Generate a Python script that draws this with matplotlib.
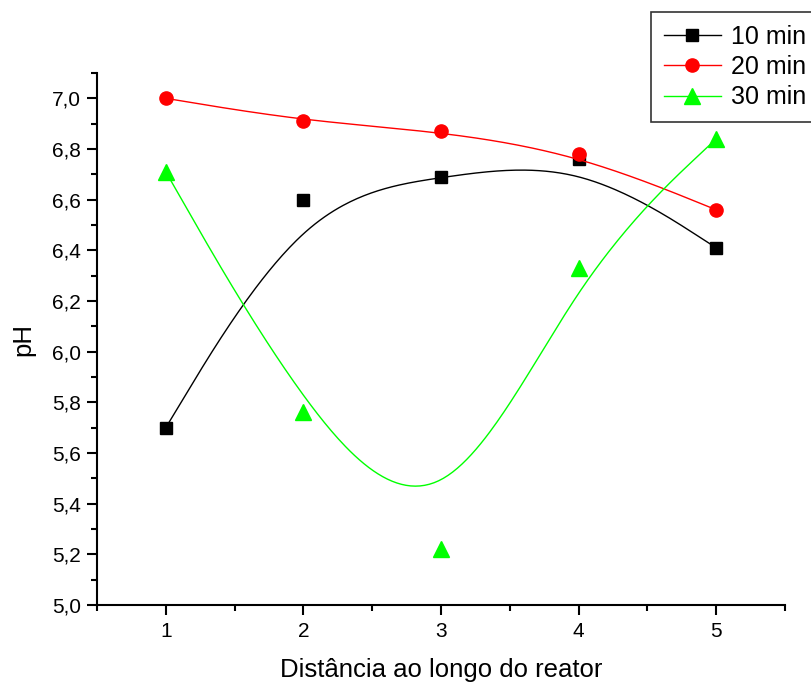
import numpy as np
import matplotlib
matplotlib.use("Agg")
import matplotlib.pyplot as plt
from matplotlib.lines import Line2D
from matplotlib.ticker import MultipleLocator, FuncFormatter

plt.rcParams['font.family'] = ['Liberation Sans', 'DejaVu Sans']

x = [1, 2, 3, 4, 5]
ph_10 = [5.70, 6.60, 6.69, 6.76, 6.41]
ph_20 = [7.00, 6.91, 6.87, 6.78, 6.56]
ph_30 = [6.71, 5.76, 5.22, 6.33, 6.84]
labels = ['10 min', '20 min', '30 min']
colors = ['black', 'red', '#00ff00']
markers = ['s', 'o', '^']
msizes = [8, 9.5, 11]


def bspline(px, py, n=60):
    """Uniform cubic B-spline with tripled end control points (Origin-style B-spline connect)."""
    P = np.column_stack([px, py]).astype(float)
    Q = np.vstack([P[:1], P[:1], P, P[-1:], P[-1:]])
    M = np.array([[-1, 3, -3, 1],
                  [3, -6, 3, 0],
                  [-3, 0, 3, 0],
                  [1, 4, 1, 0]]) / 6.0
    s = np.linspace(0, 1, n)
    S = np.column_stack([s**3, s**2, s, np.ones_like(s)])
    pts = []
    for i in range(len(Q) - 3):
        pts.append(S @ M @ Q[i:i + 4])
    pts = np.vstack(pts)
    return pts[:, 0], pts[:, 1]


fig = plt.figure(figsize=(8.11, 6.85), dpi=100)
ax = fig.add_axes([97/811, 80/685, (785-97)/811, (605-73)/685])

handles = []
for ys, c, m, ms, lab in zip([ph_10, ph_20, ph_30], colors, markers, msizes, labels):
    cx, cy = bspline(x, ys)
    ax.plot(cx, cy, color=c, lw=1)
    ax.plot(x, ys, linestyle='none', marker=m, color=c, markersize=ms)
    handles.append(Line2D([], [], color=c, lw=1, marker=m, markersize=ms, label=lab))

ax.set_xlim(0.5, 5.5)
ax.set_ylim(5.0, 7.1)
ax.xaxis.set_major_locator(MultipleLocator(1))
ax.xaxis.set_minor_locator(MultipleLocator(0.5))
ax.yaxis.set_major_locator(MultipleLocator(0.2))
ax.yaxis.set_minor_locator(MultipleLocator(0.1))
ax.yaxis.set_major_formatter(FuncFormatter(lambda v, p: f"{v:.1f}".replace('.', ',')))
for s in ['top', 'right']:
    ax.spines[s].set_visible(False)
for s in ['left', 'bottom']:
    ax.spines[s].set_linewidth(1.5)
ax.tick_params(which='major', direction='out', length=7.5, width=1.5, labelsize=15)
ax.tick_params(axis='x', which='major', pad=5)
ax.tick_params(axis='y', which='major', pad=4)
ax.tick_params(which='minor', direction='out', length=4, width=1.5)
ax.set_xlabel('Distância ao longo do reator', fontsize=18.5, labelpad=12)
ax.set_ylabel('pH', fontsize=18.5, labelpad=12)

leg = fig.legend(handles=handles, loc='upper left', bbox_to_anchor=(651/811, 1-12/685),
                 fontsize=18, frameon=True, fancybox=False, edgecolor='black',
                 handlelength=2.3, handletextpad=0.4, borderpad=0.5, labelspacing=0.26,
                 borderaxespad=0)
leg.get_frame().set_linewidth(1.2)

fig.savefig('out.png', dpi=100)
